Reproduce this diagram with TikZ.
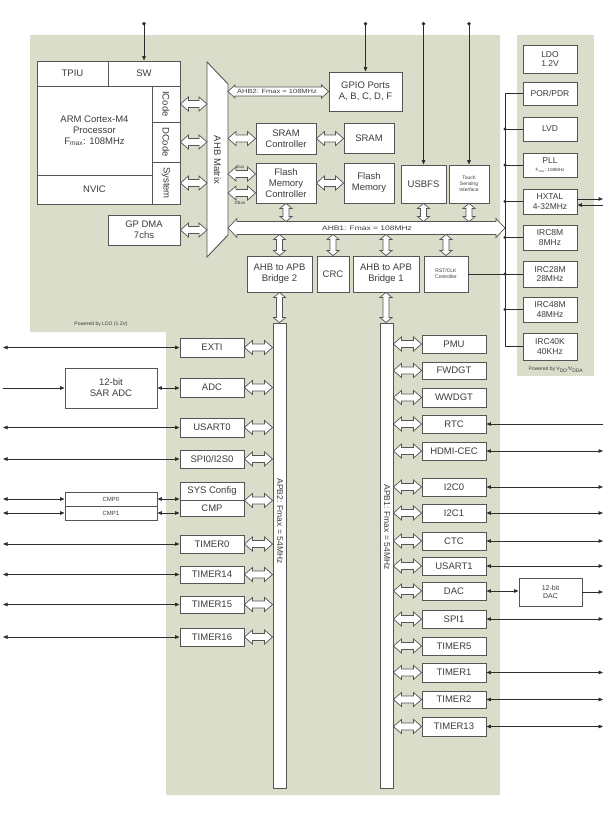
\documentclass[tikz,border=0pt]{standalone}
\usepackage{fontspec}
\setmainfont{Liberation Sans}
\usepackage{graphicx}
\usetikzlibrary{calc,arrows.meta}
\definecolor{bg}{RGB}{217,221,201}
\definecolor{ln}{RGB}{85,85,85}
\definecolor{tx}{RGB}{60,60,60}
\definecolor{sg}{RGB}{45,45,45}
\newcommand\fmain{\fontsize{9.5}{11}\selectfont}
\newcommand\fpanel{\fontsize{8.5}{9.5}\selectfont}
\newcommand\fsmall{\fontsize{5}{6}\selectfont}
\newcommand\ftiny{\fontsize{4.5}{5}\selectfont}
\newcommand\mkbox[7][]{\node[box,minimum width={(#5-#3)*1pt},minimum height={(#6-#4)*1pt},#1] (#2) at ({(#3+#5)/2},{(#4+#6)/2}) {#7};}
\tikzset{
  box/.style={draw=ln, fill=white, line width=0.9pt, inner sep=0pt, align=center, text=tx, font=\fmain},
  hollowarrow/.style n args={4}{draw=ln, fill=white, line width=0.7pt, line join=miter,
    to path={-- ($(\tikztostart)!#1pt!#2:(\tikztotarget)$)
      -- ($(\tikztostart)!#3pt!#4:(\tikztotarget)$)
      -- ($(\tikztotarget)!#3pt!-#4:(\tikztostart)$)
      -- ($(\tikztotarget)!#1pt!-#2:(\tikztostart)$)
      -- (\tikztotarget)
      -- ($(\tikztotarget)!#1pt!#2:(\tikztostart)$)
      -- ($(\tikztotarget)!#3pt!#4:(\tikztostart)$)
      -- ($(\tikztostart)!#3pt!-#4:(\tikztotarget)$)
      -- ($(\tikztostart)!#1pt!-#2:(\tikztotarget)$)
      -- cycle}},
  harr/.style={hollowarrow={10.63}{41.19}{8.73}{23.63}},
  varr/.style={hollowarrow={7.81}{50.19}{5.83}{30.96}},
  bigarr/.style={hollowarrow={13.09}{46.55}{11.10}{35.84}},
  midarr/.style={hollowarrow={9.55}{42.88}{8.32}{32.74}},
  sig/.style={draw=sg, line width=0.8pt},
  lbl/.style={text=tx, inner sep=0pt},
  pbox/.style={box, font=\fpanel},
}
\begin{document}
\begin{tikzpicture}[x=1pt,y=-1pt,>={Triangle[length=4.5pt,width=3.6pt]}]
\useasboundingbox (0,0) rectangle (606,825);
\fill[white] (0,0) rectangle (606,825);
\fill[bg] (30,35) -- (500,35) -- (500,795) -- (166,795) -- (166,332) -- (30,332) -- cycle;
\fill[bg] (517,35) rectangle (594,376);
\node[lbl, font=\fsmall] (pwr1) at (101,324) {Powered by LDO (1.2V)};
\node[lbl, font=\fsmall] (pwr2) at (556,370) {Powered by V\textsubscript{DD}/V\textsubscript{DDA}};

\coordinate (top) at (0,22);
\coordinate (L) at (3,0);
\coordinate (R) at (603,0);
\coordinate (V) at (505,0);
\coordinate (mL) at (207,0);
\coordinate (mR) at (228,0);
\coordinate (ahbtop) at (0,221.5);
\coordinate (ahbbot) at (0,234.5);
\coordinate (ahbL) at (228,228);
\coordinate (ahbR) at (505,228);

% CPU
\mkbox{tpiu}{37}{61}{108}{86}{TPIU}
\mkbox{sw}{108}{61}{180}{86}{SW}
\mkbox{arm}{37}{86}{152}{175}{ARM Cortex-M4\\Processor\\F\textsubscript{max}: 108MHz}
\mkbox{nvic}{37}{175}{152}{204}{NVIC}
\mkbox{icode}{152}{86}{180}{122}{\rotatebox{-90}{ICode}}
\mkbox{dcode}{152}{122}{180}{162}{\rotatebox{-90}{DCode}}
\mkbox{system}{152}{162}{180}{204}{\rotatebox{-90}{System}}
\mkbox{gpdma}{108}{215}{180}{245}{GP DMA\\7chs}

% AHB matrix
\draw[draw=ln, fill=white, line width=0.9pt] (207,62) -- (228,84) -- (228,235) -- (207,257) -- cycle;
\node[lbl, rotate=-90, font=\fmain] (ahbm) at (217.5,160) {AHB Matrix};

% AHB side
\mkbox{gpio}{329}{72}{402}{111}{GPIO Ports\\A, B, C, D, F}
\mkbox{sramc}{256}{123}{316}{154}{SRAM\\Controller}
\mkbox{sram}{344}{123}{394}{153}{SRAM}
\mkbox{flashc}{256}{163}{316}{203}{Flash\\Memory\\Controller}
\mkbox{flash}{344}{163}{394}{203}{Flash\\Memory}
\mkbox{usbfs}{401}{165}{446}{203}{USBFS}
\mkbox[font=\fsmall]{touch}{449}{165}{489}{203}{Touch\\Sensing\\Interface}
\mkbox{br2}{247}{256}{312}{292}{AHB to APB\\Bridge 2}
\mkbox{crc}{317}{256}{349}{292}{CRC}
\mkbox{br1}{353}{256}{419}{292}{AHB to APB\\Bridge 1}
\mkbox[font=\fsmall]{rst}{424}{256}{468}{292}{RST/CLK\\Controller}

\coordinate (ibus) at ($(flashc.west)+(0,-9)$);
\coordinate (dbus) at ($(flashc.west)+(0,10)$);

% APB buses
\mkbox{apb2}{273}{323}{286}{788}{}
\mkbox{apb1}{380}{323}{393}{788}{}
\node[lbl, rotate=-90, font=\fontsize{8.5}{9}\selectfont] (apb2lbl) at (280,521) {APB2: Fmax = 54MHz};
\node[lbl, rotate=-90, font=\fontsize{8.5}{9}\selectfont] (apb1lbl) at (387,527) {APB1: Fmax = 54MHz};

% right panel
\mkbox[pbox]{ldo}{523}{45}{577}{73}{LDO\\1.2V}
\mkbox[pbox]{por}{523}{82}{577}{105}{POR/PDR}
\mkbox[pbox]{lvd}{523}{117}{577}{141}{LVD}
\mkbox[pbox]{pll}{523}{153}{577}{177}{PLL\\[-1pt]{\ftiny F\textsubscript{max}: 108MHz}}
\mkbox[pbox]{hxtal}{523}{189}{577}{214}{HXTAL\\4-32MHz}
\mkbox[pbox]{irc8}{523}{225}{577}{250}{IRC8M\\8MHz}
\mkbox[pbox]{irc28}{523}{261}{577}{287}{IRC28M\\28MHz}
\mkbox[pbox]{irc48}{523}{297}{577}{322}{IRC48M\\48MHz}
\mkbox[pbox]{irc40}{523}{333}{577}{360}{IRC40K\\40KHz}

% left peripherals
\mkbox{exti}{180}{338}{244}{357}{EXTI}
\mkbox{adc}{180}{378}{244}{397}{ADC}
\mkbox{usart0}{180}{418}{244}{437}{USART0}
\mkbox{spi0}{180}{450}{244}{468}{SPI0/I2S0}
\mkbox{sysc}{180}{482}{244}{500}{SYS Config}
\mkbox{cmp}{180}{500}{244}{516}{CMP}
\mkbox{timer0}{180}{535}{244}{553}{TIMER0}
\mkbox{timer14}{180}{566}{244}{583}{TIMER14}
\mkbox{timer15}{180}{596}{244}{613}{TIMER15}
\mkbox{timer16}{180}{628}{244}{646}{TIMER16}
\mkbox{sar}{65}{368}{157}{408}{12-bit\\SAR ADC}
\mkbox[font=\fontsize{6}{6}\selectfont]{cmp0}{65}{492}{157}{506}{CMP0}
\mkbox[font=\fontsize{6}{6}\selectfont]{cmp1}{65}{506}{157}{520}{CMP1}

% right peripherals
\mkbox{pmu}{422}{335}{486}{353}{PMU}
\mkbox{fwdgt}{422}{362}{486}{379}{FWDGT}
\mkbox{wwdgt}{422}{388}{486}{407}{WWDGT}
\mkbox{rtc}{422}{415}{486}{433}{RTC}
\mkbox{hdmi}{422}{442}{486}{460}{HDMI-CEC}
\mkbox{i2c0}{422}{478}{486}{496}{I2C0}
\mkbox{i2c1}{422}{504}{486}{522}{I2C1}
\mkbox{ctc}{422}{532}{486}{550}{CTC}
\mkbox{usart1}{422}{557}{486}{575}{USART1}
\mkbox{dac}{422}{582}{486}{600}{DAC}
\mkbox{spi1}{422}{610}{486}{628}{SPI1}
\mkbox{timer5}{422}{637}{486}{655}{TIMER5}
\mkbox{timer1}{422}{663}{486}{682}{TIMER1}
\mkbox{timer2}{422}{691}{486}{708}{TIMER2}
\mkbox{timer13}{422}{717}{486}{736}{TIMER13}
\mkbox[font=\fontsize{7}{8}\selectfont]{dac12}{519}{578}{582}{606}{12-bit\\DAC}

% hollow arrows: CPU - matrix
\draw[harr] (icode.east) to (icode.east -| mL);
\draw[harr] (dcode.east) to (dcode.east -| mL);
\draw[harr] (system.east) to (system.east -| mL);
\draw[harr] (gpdma.east) to (gpdma.east -| mL);
% matrix - memories
\draw[midarr] (gpio.west -| mR) to (gpio.west);
\node[lbl, font=\fontsize{6}{6}\selectfont] (ahb2lbl) at (277,91.5) {\scalebox{1.25}[1]{AHB2: Fmax = 108MHz}};
\draw[harr] (sramc.west -| mR) to (sramc.west);
\draw[harr] (sramc.east) to (sramc.east -| sram.west);
\draw[harr] (ibus -| mR) to (ibus);
\draw[harr] (dbus -| mR) to (dbus);
\node[lbl, font=\ftiny] (ibuslbl) at (240,166.5) {Ibus};
\node[lbl, font=\ftiny] (dbuslbl) at (240,203) {Dbus};
\draw[harr] (flashc.east) to (flash.west);
% AHB1
\draw[bigarr] (ahbL) to (ahbR);
\node[lbl, font=\fontsize{6.5}{7}\selectfont] (ahb1lbl) at (367,228) {\scalebox{1.3}[1]{AHB1: Fmax = 108MHz}};
\draw[varr] (flashc.south) to (flashc.south |- ahbtop);
\draw[varr] (usbfs.south) to (usbfs.south |- ahbtop);
\draw[varr] (touch.south) to (touch.south |- ahbtop);
\draw[varr] (br2.north |- ahbbot) to (br2.north);
\draw[varr] (crc.north |- ahbbot) to (crc.north);
\draw[varr] (br1.north |- ahbbot) to (br1.north);
\draw[varr] (rst.north |- ahbbot) to (rst.north);
\draw[varr] (br2.south) to (br2.south |- apb2.north);
\draw[varr] (br1.south) to (br1.south |- apb1.north);

% APB2 peripherals
\foreach \n in {exti,adc,usart0,spi0,timer0,timer14,timer15,timer16}
  \draw[harr] (\n.east) to (\n.east -| apb2.west);
\draw[harr] (sysc.south east) to (sysc.south east -| apb2.west);
% APB1 peripherals
\foreach \n in {pmu,fwdgt,wwdgt,rtc,hdmi,i2c0,i2c1,ctc,usart1,dac,spi1,timer5,timer1,timer2,timer13}
  \draw[harr] (\n.west -| apb1.east) to (\n.west);

% top signal arrows
\draw[sig,{Circle[length=3.5pt]}->] (sw.north |- top) -- (sw.north);
\draw[sig,{Circle[length=3.5pt]}->] (gpio.north |- top) -- (gpio.north);
\draw[sig,{Circle[length=3.5pt]}->] (usbfs.north |- top) -- (usbfs.north);
\draw[sig,{Circle[length=3.5pt]}->] (touch.north |- top) -- (touch.north);

% left signal lines
\foreach \n in {exti,usart0,spi0,cmp0,cmp1,timer0,timer14,timer15,timer16}
  \draw[sig,<->] (\n.west -| L) -- (\n.west);
\draw[sig,->] (sar.west -| L) -- (sar.west);
\draw[sig,<->] (sar.east) -- (sar.east -| adc.west);
\draw[sig,<->] (cmp0.east) -- (cmp0.east -| cmp.west);
\draw[sig,<->] (cmp1.east) -- (cmp1.east -| cmp.west);

% right signal lines
\draw[sig,->] (rtc.east -| R) -- (rtc.east);
\foreach \n in {hdmi,i2c0,i2c1,ctc,usart1,spi1,timer1,timer2,timer13}
  \draw[sig,<->] (\n.east) -- (\n.east -| R);
\draw[sig,<->] (dac.east) -- (dac.east -| dac12.west);
\draw[sig,->] (dac12.east) -- (dac12.east -| R);

% clock / power tree
\coordinate (hx1) at (603,199);
\coordinate (hx2) at (603,205);
\draw[sig,->] (hx1 -| hxtal.east) -- (hx1);
\draw[sig,->] (hx2) -- (hx2 -| hxtal.east);
\draw[sig] (por.west) -| (irc40.west -| V) -- (irc40.west);
\foreach \n in {lvd,pll,hxtal,irc8,irc28,irc48} {
  \draw[sig] (\n.west -| V) -- (\n.west);
  \fill[sg] (\n.west -| V) circle[radius=1.7pt];
}
\draw[sig] (rst.east) -- (rst.east -| V);
\end{tikzpicture}
\end{document}
